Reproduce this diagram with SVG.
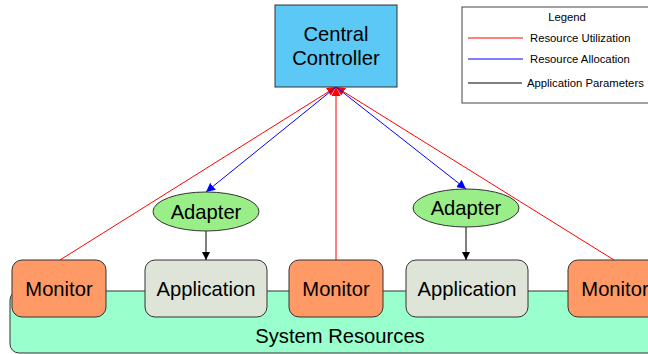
<svg xmlns="http://www.w3.org/2000/svg" width="648" height="354" viewBox="0 0 648 354">
<defs>
<style>
text{font-family:"Liberation Sans",Arial,sans-serif;fill:#000}
.lbl{font-size:20.2px;text-anchor:middle}
.lg{font-size:11.3px}
.box{stroke:#333;stroke-width:1}
.mon{fill:#FF9966}
.app{fill:#DEE5D8}
.ad{fill:#99EE88}
.red{stroke:#FF0000;stroke-width:1;fill:none}
.blue{stroke:#0000FF;stroke-width:1;fill:none}
.blk{stroke:#000;stroke-width:1;fill:none}
</style>
<marker id="ar" viewBox="0 0 10 10" refX="10" refY="5" markerWidth="9" markerHeight="9" markerUnits="userSpaceOnUse" orient="auto"><path d="M0,0L10,5L0,10z" fill="#FF0000"/></marker>
<marker id="ab" viewBox="0 0 10 10" refX="10" refY="5" markerWidth="9" markerHeight="9" markerUnits="userSpaceOnUse" orient="auto"><path d="M0,0L10,5L0,10z" fill="#0000FF"/></marker>
<marker id="ak" viewBox="0 0 10 10" refX="10" refY="5" markerWidth="8" markerHeight="8" markerUnits="userSpaceOnUse" orient="auto"><path d="M0,0L10,5L0,10z" fill="#000"/></marker>
</defs>
<rect width="648" height="354" fill="#fff"/>
<g id="system-resources">
<rect class="box" x="10" y="291" width="660" height="62" rx="9" fill="#99FFCC"/>
<text class="lbl" x="340" y="343">System Resources</text>
</g>
<g id="legend">
<rect x="462" y="7" width="190" height="96" fill="#fff" stroke="#444"/>
<text class="lg" x="567" y="21" text-anchor="middle">Legend</text>
<line class="red" x1="468" y1="38" x2="523" y2="38"/>
<text class="lg" x="530" y="42">Resource Utilization</text>
<line class="blue" x1="468" y1="59" x2="523" y2="59"/>
<text class="lg" x="530" y="63">Resource Allocation</text>
<line class="blk" x1="468" y1="83" x2="522" y2="83"/>
<text class="lg" x="527" y="87">Application Parameters</text>
</g>
<g id="connectors">
<line class="red" x1="60" y1="260" x2="336" y2="87" marker-end="url(#ar)"/>
<line class="red" x1="336" y1="260" x2="336" y2="87" marker-end="url(#ar)"/>
<line class="red" x1="614" y1="260" x2="336" y2="87" marker-end="url(#ar)"/>
<line class="blue" x1="336" y1="87" x2="206" y2="192" marker-end="url(#ab)"/>
<line class="blue" x1="336" y1="87" x2="466" y2="189" marker-end="url(#ab)"/>
<line class="blk" x1="206" y1="231" x2="206" y2="260" marker-end="url(#ak)"/>
<line class="blk" x1="466" y1="227" x2="466" y2="260" marker-end="url(#ak)"/>
</g>
<g id="central-controller">
<rect class="box" x="275" y="5" width="122" height="82" fill="#5CC8F5"/>
<text class="lbl" x="336" y="41">Central</text>
<text class="lbl" x="336" y="65">Controller</text>
</g>
<g id="adapter-1">
<ellipse class="box ad" cx="206" cy="211.5" rx="53" ry="19.5"/>
<text class="lbl" x="206" y="218.5">Adapter</text>
</g>
<g id="adapter-2">
<ellipse class="box ad" cx="466" cy="208" rx="53" ry="19"/>
<text class="lbl" x="466" y="215">Adapter</text>
</g>
<g id="monitor-1">
<rect class="box mon" x="12" y="260" width="94" height="57" rx="10"/>
<text class="lbl" x="59" y="296">Monitor</text>
</g>
<g id="application-1">
<rect class="box app" x="145" y="260" width="122" height="57" rx="10"/>
<text class="lbl" x="206" y="296">Application</text>
</g>
<g id="monitor-2">
<rect class="box mon" x="289" y="260" width="94" height="57" rx="10"/>
<text class="lbl" x="336" y="296">Monitor</text>
</g>
<g id="application-2">
<rect class="box app" x="406" y="260" width="122" height="57" rx="10"/>
<text class="lbl" x="467" y="296">Application</text>
</g>
<g id="monitor-3">
<rect class="box mon" x="568" y="260" width="94" height="57" rx="10"/>
<text class="lbl" x="615" y="296">Monitor</text>
</g>
</svg>
